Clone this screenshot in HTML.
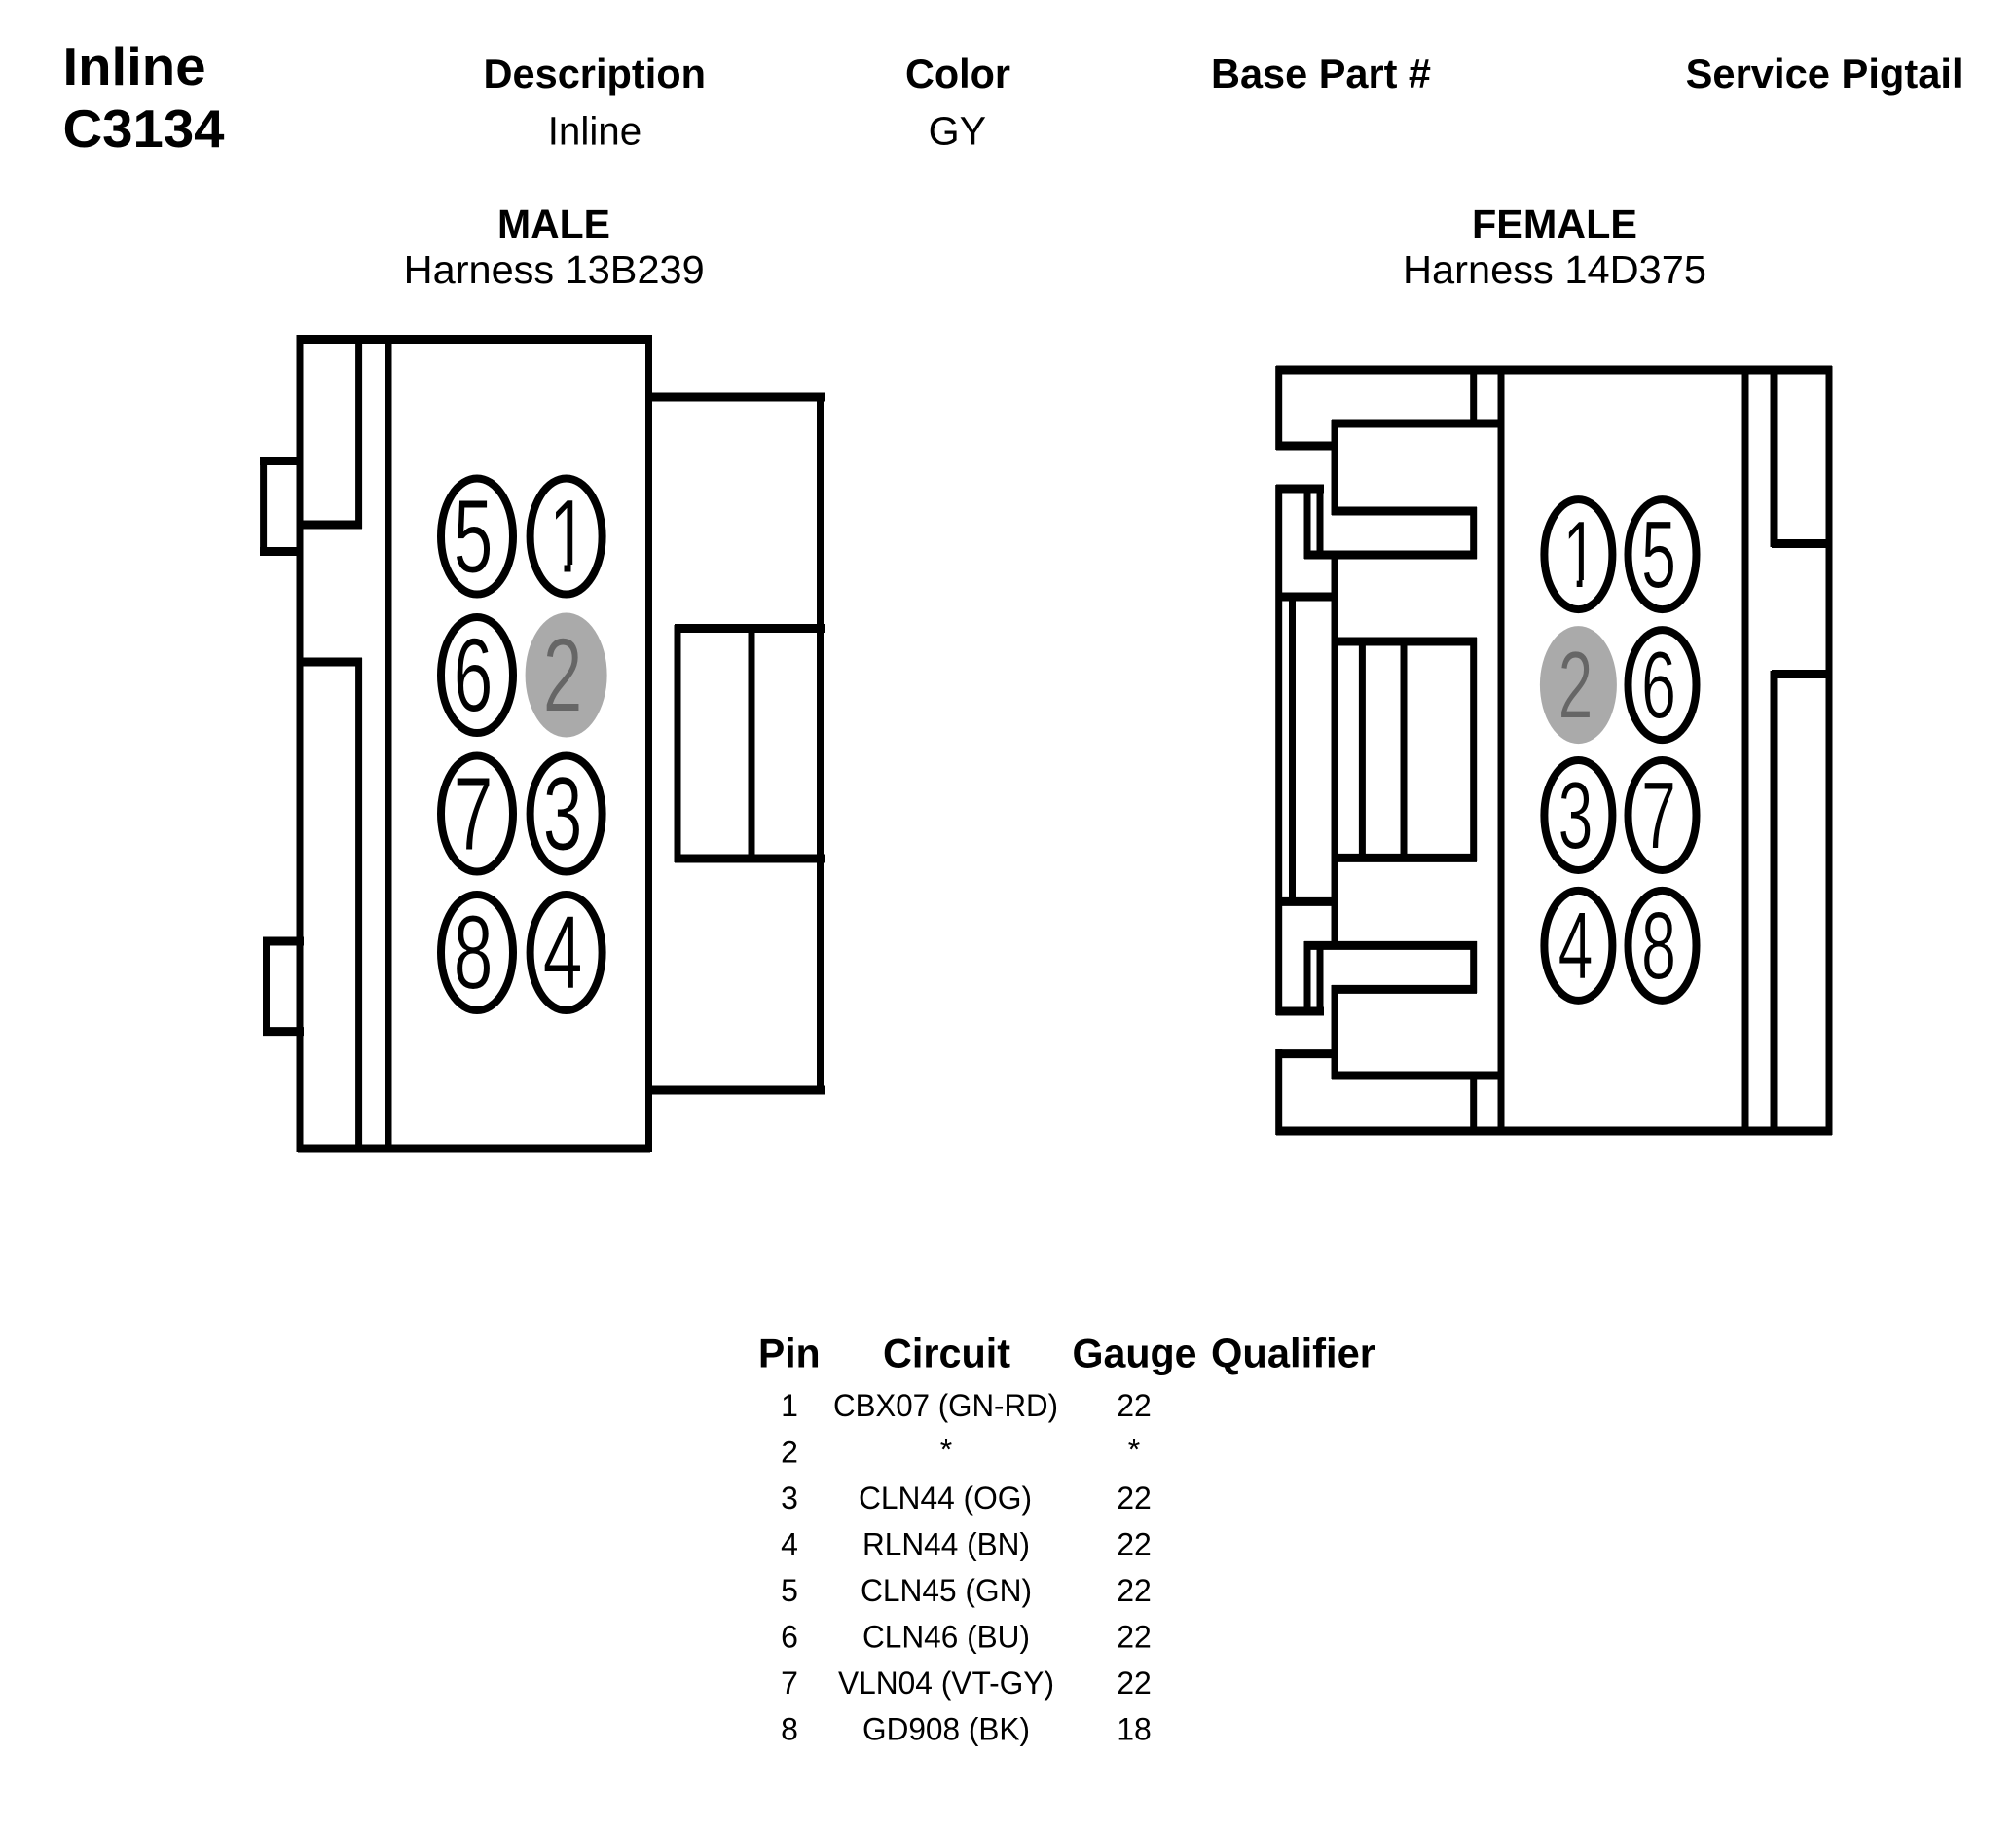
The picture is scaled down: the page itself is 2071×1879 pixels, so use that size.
<!DOCTYPE html>
<html><head><meta charset="utf-8"><style>
html,body{margin:0;padding:0;background:#fff}
svg{display:block}
text{font-family:"Liberation Sans",sans-serif;fill:#000}
.b{font-weight:bold}
.d{font-size:108px;text-anchor:middle;stroke:#fff;stroke-width:1}
.f{font-size:98px;text-anchor:middle;stroke:#fff;stroke-width:1}
.c{stroke-width:8;fill:#fff;stroke:#000}
.g{fill:#aaa;stroke:none}
.h{stroke:#000;stroke-width:9;fill:none}
.v{stroke:#000;stroke-width:7;fill:none}
</style></head><body>
<svg width="2071" height="1879" viewBox="0 0 2071 1879" xmlns="http://www.w3.org/2000/svg">
<rect width="2071" height="1879" fill="#fff"/>
<text class="b" x="64.500" y="87" font-size="55" textLength="147" lengthAdjust="spacingAndGlyphs">Inline</text>
<text class="b" x="64.500" y="151" font-size="55" textLength="166" lengthAdjust="spacingAndGlyphs">C3134</text>
<text class="b" x="496.500" y="90" font-size="42" textLength="228.500" lengthAdjust="spacingAndGlyphs">Description</text>
<text x="562.700" y="148.500" font-size="41" textLength="96.500" lengthAdjust="spacingAndGlyphs">Inline</text>
<text class="b" x="930" y="90" font-size="42" textLength="108" lengthAdjust="spacingAndGlyphs">Color</text>
<text x="953.600" y="148.500" font-size="41" textLength="59.500" lengthAdjust="spacingAndGlyphs">GY</text>
<text class="b" x="1244" y="90" font-size="42" textLength="226" lengthAdjust="spacingAndGlyphs">Base Part #</text>
<text class="b" x="1731.600" y="90" font-size="42" textLength="285" lengthAdjust="spacingAndGlyphs">Service Pigtail</text>
<text class="b" x="511" y="244.500" font-size="42" textLength="116" lengthAdjust="spacingAndGlyphs">MALE</text>
<text x="414.700" y="291" font-size="41" textLength="309" lengthAdjust="spacingAndGlyphs">Harness 13B239</text>
<text class="b" x="1512" y="244.500" font-size="42" textLength="170" lengthAdjust="spacingAndGlyphs">FEMALE</text>
<text x="1441" y="291" font-size="41" textLength="312" lengthAdjust="spacingAndGlyphs">Harness 14D375</text>

<!-- male connector -->
<path class="h" d="M306 348.500H668M306 1180H668M306 539H372M306 680H372M666 408H848M666 1120H848M693 645.500H848M693 882H848M267 473.500H310M267 566.500H310M270 967H312M270 1059.600H312"/>
<path class="v" d="M308 344V1184M368.600 348V543M368.600 676V1180M399 348V1180M666.500 344V1184M842.500 404V1124M696 642V886M772 645V882M270.600 469V571M273.500 963V1064"/>

<!-- female connector -->
<path class="h" d="M1311 380H1882M1311 1162H1882M1820 558.500H1879M1820 692.500H1879M1311 458H1374M1368 435H1542M1368 525H1517M1340 570H1517M1311 502H1360M1311 613H1371M1311 926.400H1371M1368 659H1517M1368 881.400H1517M1340 971.400H1517M1368 1016.400H1517M1368 1105H1542M1311 1039H1360M1311 1082.600H1371"/>
<path class="v" d="M1879 376V1166M1793 380V1162M1822 380V562M1822 689V1162M1542 380V1162M1513.700 380V435M1513.700 1105V1162M1313.700 376V462M1371 431V529M1371 566V975M1371 1012V1109M1513.700 521V574M1343 504V574M1356 498V570M1313.700 498V1043M1327.500 613V926M1399.400 659V881M1442 659V881M1513.700 655V885M1513.700 967V1020M1343 967V1043M1356 971V1043M1313.700 1078V1166"/>

<!-- male pins -->
<ellipse class="c" cx="490" cy="551" rx="37" ry="59.500"/>
<ellipse class="c" cx="581.600" cy="551" rx="37" ry="59.500"/>
<ellipse class="c" cx="490" cy="693.500" rx="37" ry="59.500"/>
<ellipse class="g" cx="581.600" cy="693.500" rx="42" ry="64"/>
<ellipse class="c" cx="490" cy="836" rx="37" ry="59.500"/>
<ellipse class="c" cx="581.600" cy="836" rx="37" ry="59.500"/>
<ellipse class="c" cx="490" cy="978.500" rx="37" ry="59.500"/>
<ellipse class="c" cx="581.600" cy="978.500" rx="37" ry="59.500"/>
<text class="d" transform="translate(486,588) scale(.68,1)">5</text>
<text class="d" transform="translate(584,588) scale(.68,1)">1</text>
<rect x="566" y="580" width="13.500" height="10" fill="#fff"/><rect x="586.500" y="580" width="17.500" height="10" fill="#fff"/>
<text class="d" transform="translate(486,730.500) scale(.68,1)">6</text>
<text class="d" style="fill:#666;stroke:#aaa" transform="translate(578,730.500) scale(.68,1)">2</text>
<text class="d" transform="translate(486,873) scale(.68,1)">7</text>
<text class="d" transform="translate(578,873) scale(.68,1)">3</text>
<text class="d" transform="translate(486,1015.500) scale(.68,1)">8</text>
<text class="d" transform="translate(578,1015.500) scale(.68,1)">4</text>

<!-- female pins -->
<ellipse class="c" cx="1621.400" cy="569.600" rx="35" ry="56.500"/>
<ellipse class="c" cx="1707.500" cy="569.600" rx="35" ry="56.500"/>
<ellipse class="g" cx="1621.400" cy="703.600" rx="39.500" ry="60.500"/>
<ellipse class="c" cx="1707.500" cy="703.600" rx="35" ry="56.500"/>
<ellipse class="c" cx="1621.400" cy="837.500" rx="35" ry="56.500"/>
<ellipse class="c" cx="1707.500" cy="837.500" rx="35" ry="56.500"/>
<ellipse class="c" cx="1621.400" cy="971.400" rx="35" ry="56.500"/>
<ellipse class="c" cx="1707.500" cy="971.400" rx="35" ry="56.500"/>
<text class="f" transform="translate(1623.200,603.600) scale(.66,1)">1</text>
<rect x="1604" y="596" width="15.700" height="9" fill="#fff"/><rect x="1625.500" y="596" width="15.500" height="9" fill="#fff"/>
<text class="f" transform="translate(1704,603.600) scale(.66,1)">5</text>
<text class="f" style="fill:#666;stroke:#aaa" transform="translate(1618.500,737.600) scale(.66,1)">2</text>
<text class="f" transform="translate(1704,737.600) scale(.66,1)">6</text>
<text class="f" transform="translate(1618.500,871.500) scale(.66,1)">3</text>
<text class="f" transform="translate(1704,871.500) scale(.66,1)">7</text>
<text class="f" transform="translate(1618.500,1005.400) scale(.66,1)">4</text>
<text class="f" transform="translate(1704,1005.400) scale(.66,1)">8</text>

<!-- table -->
<text class="b" x="779" y="1404.500" font-size="42" textLength="63.500" lengthAdjust="spacingAndGlyphs">Pin</text>
<text class="b" x="907" y="1404.500" font-size="42" textLength="131" lengthAdjust="spacingAndGlyphs">Circuit</text>
<text class="b" x="1101.500" y="1404.500" font-size="42" textLength="128" lengthAdjust="spacingAndGlyphs">Gauge</text>
<text class="b" x="1244" y="1404.500" font-size="42" textLength="169" lengthAdjust="spacingAndGlyphs">Qualifier</text>
<g font-size="32" text-anchor="middle">
<text x="811" y="1455">1</text><text x="811" y="1502.500">2</text><text x="811" y="1550">3</text><text x="811" y="1597.500">4</text><text x="811" y="1645">5</text><text x="811" y="1692.500">6</text><text x="811" y="1740">7</text><text x="811" y="1787.500">8</text>
<text x="972" y="1500.500">*</text><text x="1165" y="1500.500">*</text>
<text x="1165" y="1455">22</text><text x="1165" y="1550">22</text><text x="1165" y="1597.500">22</text><text x="1165" y="1645">22</text><text x="1165" y="1692.500">22</text><text x="1165" y="1740">22</text><text x="1165" y="1787.500">18</text>
</g>
<g font-size="32">
<text x="856" y="1455" textLength="231" lengthAdjust="spacingAndGlyphs">CBX07 (GN-RD)</text>
<text x="882" y="1550" textLength="178" lengthAdjust="spacingAndGlyphs">CLN44 (OG)</text>
<text x="886" y="1597.500" textLength="172" lengthAdjust="spacingAndGlyphs">RLN44 (BN)</text>
<text x="884" y="1645" textLength="176" lengthAdjust="spacingAndGlyphs">CLN45 (GN)</text>
<text x="886" y="1692.500" textLength="172" lengthAdjust="spacingAndGlyphs">CLN46 (BU)</text>
<text x="861" y="1740" textLength="222" lengthAdjust="spacingAndGlyphs">VLN04 (VT-GY)</text>
<text x="886" y="1787.500" textLength="172" lengthAdjust="spacingAndGlyphs">GD908 (BK)</text>
</g>
</svg>
</body></html>
